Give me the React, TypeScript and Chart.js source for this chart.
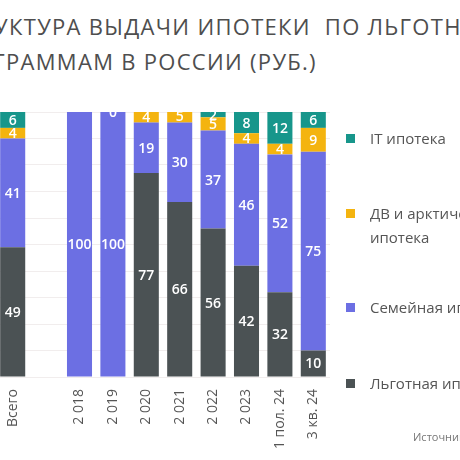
import React, { useEffect, useRef } from "react";
import { Chart, registerables } from "chart.js";

Chart.register(...registerables);

const categories = ["Всего", "", "2 018", "2 019", "2 020", "2 021", "2 022", "2 023", "1 пол. 24", "3 кв. 24"];
const lgotnaya = [49, null, null, null, 77, 66, 56, 42, 32, 10];
const semeynaya = [41, null, 100, 100, 19, 30, 37, 46, 52, 75];
const dvArctic = [4, null, null, null, 4, 5, 5, 4, 4, 9];
const itIpoteka = [6, null, null, 0, null, null, 2, 8, 12, 6];

const seriesNames = ["Льготная ипотека", "Семейная ипотека", "ДВ и арктическая ипотека", "IT ипотека"];
const colors = ["#4b5254", "#6c6fe3", "#f4b40f", "#17968b"];

const titleLines = ["СТРУКТУРА ВЫДАЧИ ИПОТЕКИ  ПО ЛЬГОТНЫМ", "ПРОГРАММАМ В РОССИИ (РУБ.)"];

const FONT = "'Open Sans', 'Noto Sans', sans-serif";

const labelPlugin = {
  id: "segLabels",
  afterDatasetsDraw(chart: any) {
    const { ctx, chartArea } = chart;
    ctx.save();
    ctx.beginPath();
    ctx.rect(chartArea.left, chartArea.top, chartArea.right - chartArea.left, chartArea.bottom - chartArea.top);
    ctx.clip();
    ctx.fillStyle = "#ffffff";
    ctx.font = `600 14px ${FONT}`;
    ctx.textAlign = "center";
    ctx.textBaseline = "middle";
    chart.data.datasets.forEach((ds: any, di: number) => {
      const meta = chart.getDatasetMeta(di);
      meta.data.forEach((el: any, i: number) => {
        const v = ds.data[i];
        if (v === null || v === undefined) return;
        const y = (el.y + el.base) / 2;
        ctx.fillText(String(v), el.x, y + 1);
      });
    });
    ctx.restore();
  },
};

function BarChart() {
  const ref = useRef<HTMLCanvasElement | null>(null);
  useEffect(() => {
    if (!ref.current) return;
    const data = [lgotnaya, semeynaya, dvArctic, itIpoteka];
    const chart = new Chart(ref.current, {
      type: "bar",
      data: {
        labels: categories,
        datasets: data.map((d, i) => ({
          label: seriesNames[i],
          data: d as any,
          backgroundColor: colors[i],
          borderWidth: 0,
          barPercentage: 0.75,
          categoryPercentage: 1,
        })),
      },
      options: {
        animation: false,
        responsive: false,
        maintainAspectRatio: false,
        layout: { padding: { left: 16, right: 20, top: 12, bottom: 0 } },
        plugins: {
          legend: { display: false },
          title: { display: false },
          tooltip: { enabled: false },
        },
        scales: {
          x: {
            stacked: true,
            grid: { display: false },
            border: { display: false },
            ticks: {
              autoSkip: false,
              maxRotation: 90,
              minRotation: 90,
              padding: 4,
              color: "#555555",
              font: { family: FONT, size: 14 },
            },
            afterFit: (s: any) => {
              s.height = 83;
            },
          },
          y: {
            stacked: true,
            min: 0,
            max: 100,
            ticks: { display: false, stepSize: 10 },
            border: { display: false },
            grid: { color: "#f1eded", drawTicks: false },
            afterFit: (s: any) => {
              s.width = 0;
            },
          },
        },
      },
      plugins: [labelPlugin],
    });
    return () => chart.destroy();
  }, []);
  return (
    <canvas
      ref={ref}
      width={370}
      height={360}
      style={{ position: "absolute", left: -20, top: 100, width: 370, height: 360 }}
    />
  );
}

const legendItems = [
  { name: "IT ипотека", color: colors[3], top: 138 },
  { name: "ДВ и арктическая", name2: "ипотека", color: colors[2], top: 213 },
  { name: "Семейная ипотека", color: colors[1], top: 307 },
  { name: "Льготная ипотека", color: colors[0], top: 383 },
];

export default function App() {
  return (
    <div
      style={{
        position: "fixed",
        left: 0,
        top: 0,
        width: 460,
        height: 460,
        overflow: "hidden",
        background: "#ffffff",
        fontFamily: FONT,
      }}
    >
      <div
        style={{
          position: "absolute",
          left: -57,
          top: 9,
          fontSize: 22,
          lineHeight: "35px",
          letterSpacing: "1.3px",
          color: "#4e4e4e",
          whiteSpace: "pre",
        }}
      >
        {titleLines.map((t, i) => (
          <div key={i} style={{ paddingLeft: i === 0 ? 8 : 0 }}>
            {t}
          </div>
        ))}
      </div>
      <BarChart />
      {legendItems.map((it, i) => (
        <div key={i} style={{ position: "absolute", left: 346, top: it.top - 12, whiteSpace: "nowrap" }}>
          <div
            style={{
              position: "absolute",
              left: 0,
              top: 8,
              width: 9,
              height: 9,
              background: it.color,
            }}
          />
          <div style={{ position: "absolute", left: 24, top: 0, fontSize: 15, lineHeight: "24px", color: "#555555" }}>
            {it.name}
            {it.name2 ? <div>{it.name2}</div> : null}
          </div>
        </div>
      ))}
      <div
        style={{
          position: "absolute",
          left: 413,
          top: 429,
          fontSize: 11,
          lineHeight: "16px",
          color: "#777777",
          whiteSpace: "nowrap",
        }}
      >
        Источник: ДОМ.РФ
      </div>
    </div>
  );
}
